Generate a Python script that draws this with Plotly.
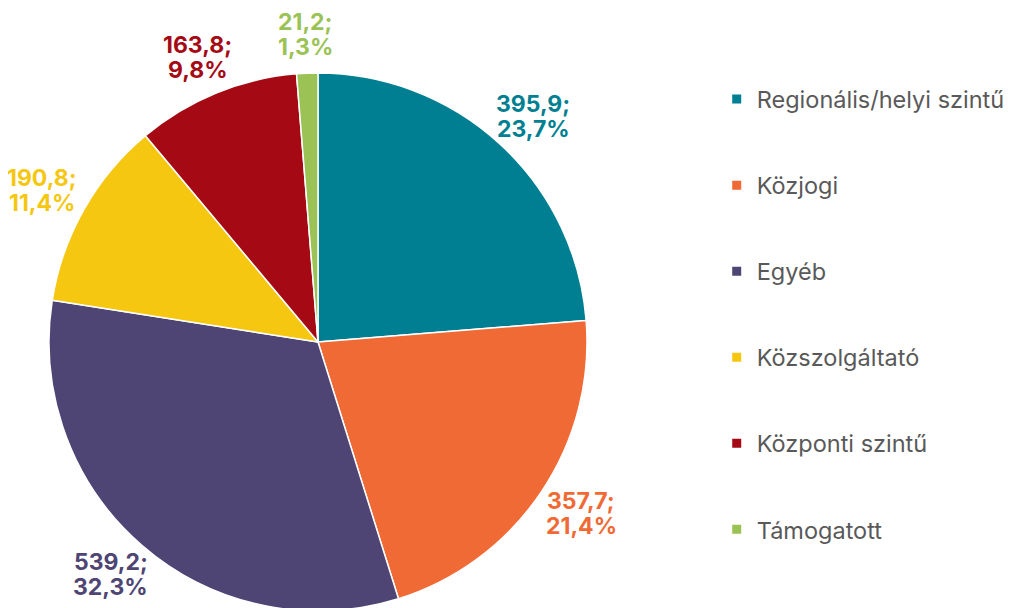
import numpy as np
import plotly.graph_objects as go

categories = ["Regionális/helyi szintű", "Közjogi", "Egyéb", "Közszolgáltató", "Központi szintű", "Támogatott"]
values = [395.9, 357.7, 539.2, 190.8, 163.8, 21.2]
colors = ["#007F92", "#F06A35", "#4E4574", "#F5C710", "#A50A14", "#9AC255"]

W, H = 1011, 608
dom_x = [41 / W, 579 / W]
dom_y = [5 / H, 543 / H]

fig = go.Figure()

fig.add_trace(go.Pie(
    labels=categories,
    values=values,
    sort=False,
    direction="clockwise",
    rotation=0,
    marker=dict(colors=colors, line=dict(color="white", width=1.5)),
    textinfo="none",
    showlegend=False,
    hoverinfo="label+value+percent",
    domain=dict(x=dom_x, y=dom_y),
))

# data labels outside the slices: anchor point just past the rim at the
# slice's mid angle, label box pushed outwards from there
vals = np.array(values)
share = vals / vals.sum()
mid = (np.cumsum(share) - share / 2) * 2 * np.pi
cx = sum(dom_x) / 2 * W
cy = sum(dom_y) / 2 * H
r = min((dom_x[1] - dom_x[0]) * W, (dom_y[1] - dom_y[0]) * H) / 2 * 0.994
box_w, box_h = 70, 50
for v, p, a, col in zip(values, share, mid, colors):
    s, c = np.sin(a), np.cos(a)
    lx = cx + (r + 15) * s + box_w / 2 * s
    ly = cy + (r + 15) * c + box_h / 2 * c
    lines = [f"{v:.1f};".replace(".", ","), f"{p * 100:.1f}%".replace(".", ",")]
    for txt, dy in zip(lines, [12.5, -12.5]):
        fig.add_annotation(
            x=lx / W, y=ly / H, xref="paper", yref="paper",
            xanchor="center", yanchor="middle", yshift=dy,
            text=txt, showarrow=False,
            font=dict(family="Inter", size=23, color=col, weight="bold"),
        )

# legend entries, one group each so they can be spread out
for name, col in zip(categories, colors):
    fig.add_trace(go.Scatter(
        x=[None], y=[None], mode="markers", name=name, legendgroup=name,
        marker=dict(symbol="square", size=9, color=col),
    ))

fig.update_layout(
    width=W, height=H,
    margin=dict(l=0, r=0, t=0, b=0),
    paper_bgcolor="white", plot_bgcolor="white",
    xaxis=dict(visible=False), yaxis=dict(visible=False),
    legend=dict(
        x=0.701, y=0.886, xanchor="left", yanchor="top",
        font=dict(family="Inter", size=23.5, color="#595959"),
        tracegroupgap=52.5, itemwidth=30,
    ),
)

fig.write_html("out.html")
